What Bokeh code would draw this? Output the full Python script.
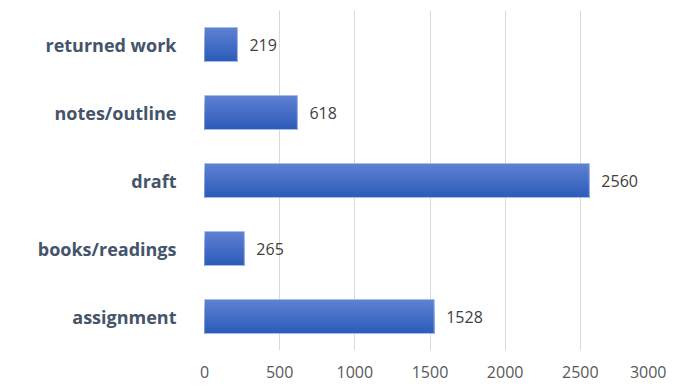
from bokeh.plotting import figure
from bokeh.models import Range1d, FactorRange, ColumnDataSource, LabelSet, FixedTicker
from bokeh.transform import dodge
from bokeh.core.properties import value
from bokeh.embed import file_html
from bokeh.resources import INLINE

categories = ["returned work", "notes/outline", "draft", "books/readings", "assignment"]
values = [219, 618, 2560, 265, 1528]
x_ticks = [0, 500, 1000, 1500, 2000, 2500, 3000]

factors = list(reversed(categories))
src = ColumnDataSource(dict(cat=categories, val=values, lab=[str(v) for v in values]))

p = figure(width=666, height=387, y_range=FactorRange(factors=factors),
           x_range=Range1d(0, 3000), output_backend="svg", toolbar_location=None,
           min_border_left=204, min_border_right=11, min_border_top=10, min_border_bottom=37)
p.outline_line_color = None
p.background_fill_color = "white"
p.border_fill_color = "white"

# gradient bars built from overlapping horizontal strips (top light -> bottom dark)
bar_h = 0.5
n = 12
top = (92, 128, 210)
bot = (46, 92, 186)
for i in range(n):
    t = i / (n - 1)
    c = tuple(int(round(top[k] + (bot[k] - top[k]) * t)) for k in range(3))
    color = "#%02x%02x%02x" % c
    strip_top = bar_h / 2 - i * bar_h / n
    strip_bot = -bar_h / 2
    off = (strip_top + strip_bot) / 2
    p.hbar(y=dodge("cat", off, range=p.y_range), right="val", left=0,
           height=strip_top - strip_bot, source=src, fill_color=color, line_color=None)
p.hbar(y="cat", right="val", left=0, height=bar_h, source=src,
       fill_color=None, line_color="#a8bbe4", line_width=1)

labels = LabelSet(x="val", y="cat", text="lab", source=src, x_offset=12,
                  text_baseline="middle", text_font=value("Open Sans"),
                  text_font_size="16px", text_color="#404040")
p.add_layout(labels)

p.xaxis.ticker = FixedTicker(ticks=x_ticks)
p.xaxis.axis_line_color = None
p.xaxis.major_tick_line_color = None
p.xaxis.minor_tick_line_color = None
p.xaxis.major_label_standoff = 9
p.xaxis.major_label_text_font = "Open Sans"
p.xaxis.major_label_text_font_size = "16px"
p.xaxis.major_label_text_color = "#595959"

p.yaxis.axis_line_color = None
p.yaxis.major_tick_line_color = None
p.yaxis.major_label_standoff = 22
p.yaxis.major_label_text_font = "Open Sans"
p.yaxis.major_label_text_font_style = "bold"
p.yaxis.major_label_text_font_size = "18px"
p.yaxis.major_label_text_color = "#44546a"

p.ygrid.grid_line_color = None
p.xgrid.grid_line_color = "#d9d9d9"
p.xgrid.grid_line_width = 1

open("out.html", "w").write(file_html(p, INLINE))
